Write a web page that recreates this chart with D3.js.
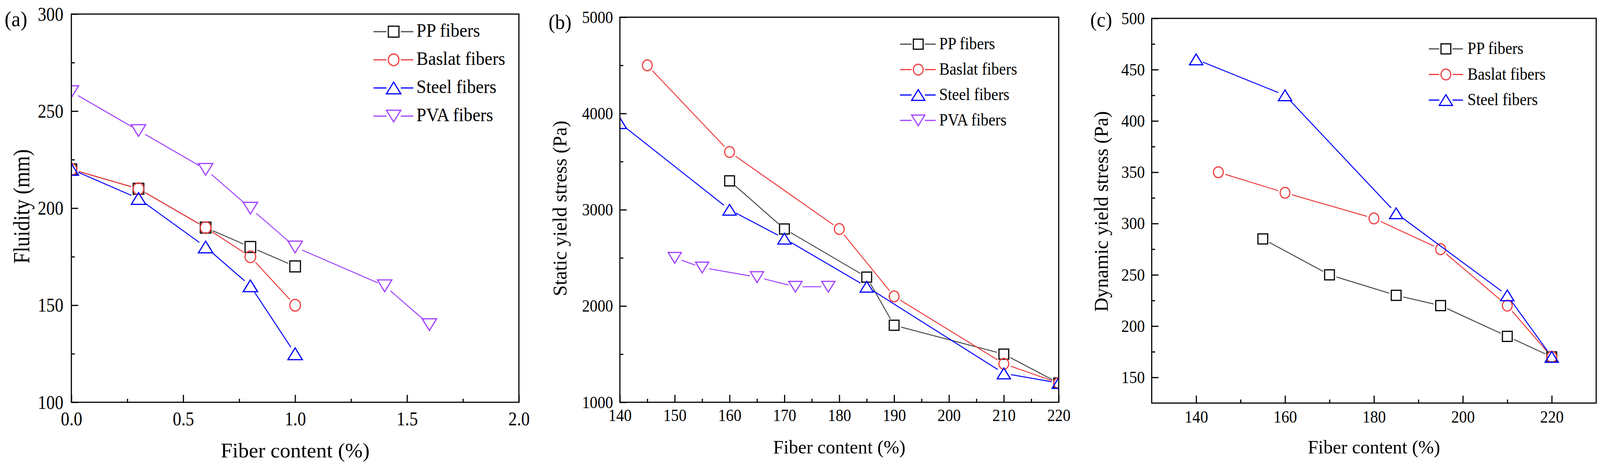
<!DOCTYPE html>
<html>
<head>
<meta charset="utf-8">
<script src="https://cdn.jsdelivr.net/npm/d3@7"></script>
<style>
	html, body { margin: 0; padding: 0; background: #fff; overflow: hidden; }
	svg { display: block; }
</style>
</head>
<body>
<script>
const width = 4215
const height = 1192
const serif = '"Liberation Serif", "Times New Roman", "DejaVu Serif", serif'

// Series names (legend order)
const seriesNames = ['PP fibers', 'Baslat fibers', 'Steel fibers', 'PVA fibers']

// (a) Fluidity vs fiber content
const fluidityPPx = [0, 0.3, 0.6, 0.8, 1.0]
const fluidityPPy = [220, 210, 190, 180, 170]
const fluidityBaslatX = [0, 0.3, 0.6, 0.8, 1.0]
const fluidityBaslatY = [220, 210, 190, 175, 150]
const fluiditySteelX = [0, 0.3, 0.6, 0.8, 1.0]
const fluiditySteelY = [220, 205, 180, 160, 125]
const fluidityPVAx = [0, 0.3, 0.6, 0.8, 1.0, 1.4, 1.6]
const fluidityPVAy = [260, 240, 220, 200, 180, 160, 140]

// (b) Static yield stress
const staticPPx = [160, 170, 185, 190, 210, 220]
const staticPPy = [3300, 2800, 2300, 1800, 1500, 1200]
const staticBaslatX = [145, 160, 180, 190, 210, 220]
const staticBaslatY = [4500, 3600, 2800, 2100, 1400, 1200]
const staticSteelX = [140, 160, 170, 185, 210, 220]
const staticSteelY = [3900, 3000, 2700, 2200, 1300, 1200]
const staticPVAx = [150, 155, 165, 172, 178]
const staticPVAy = [2500, 2400, 2300, 2200, 2200]

// (c) Dynamic yield stress
const dynamicPPx = [155, 170, 185, 195, 210, 220]
const dynamicPPy = [285, 250, 230, 220, 190, 170]
const dynamicBaslatX = [145, 160, 180, 195, 210, 220]
const dynamicBaslatY = [350, 330, 305, 275, 220, 170]
const dynamicSteelX = [140, 160, 185, 210, 220]
const dynamicSteelY = [460, 425, 310, 230, 170]

// Tick values
const fluidityXTicks = [0, 0.5, 1.0, 1.5, 2.0]
const fluidityXMinor = [0.25, 0.75, 1.25, 1.75]
const fluidityYTicks = [100, 150, 200, 250, 300]
const fluidityYMinor = [125, 175, 225, 275]
const staticXTicks = [140, 150, 160, 170, 180, 190, 200, 210, 220]
const staticXMinor = [145, 155, 165, 175, 185, 195, 205, 215]
const staticYTicks = [1000, 2000, 3000, 4000, 5000]
const staticYMinor = [1500, 2500, 3500, 4500]
const dynamicXTicks = [140, 160, 180, 200, 220]
const dynamicXMinor = [150, 170, 190, 210]
const dynamicYTicks = [150, 200, 250, 300, 350, 400, 450, 500]
const dynamicYMinor = [175, 225, 275, 325, 375, 425, 475]

// Look of each series
const styles = {
	'PP fibers': { line: '#4a4a4a', color: '#000000', marker: 'square' },
	'Baslat fibers': { line: '#f03c3c', color: '#f03c3c', marker: 'circle' },
	'Steel fibers': { line: '#0000ff', color: '#0000ff', marker: 'up' },
	'PVA fibers': { line: '#a040ff', color: '#a040ff', marker: 'down' },
}

const panels = [
	{
		id: 'a', left: 188, right: 1367, top: 36, bottom: 1029,
		xDomain: [0, 2], yDomain: [100, 300],
		xTicks: fluidityXTicks, xMinor: fluidityXMinor, yTicks: fluidityYTicks, yMinor: fluidityYMinor,
		xFormat: d3.format('.1f'),
		tickFont: 50, tickScale: 0.9, xPad: 24, yPad: 21,
		series: [
			{ name: seriesNames[0], x: fluidityPPx, y: fluidityPPy },
			{ name: seriesNames[1], x: fluidityBaslatX, y: fluidityBaslatY },
			{ name: seriesNames[2], x: fluiditySteelX, y: fluiditySteelY },
			{ name: seriesNames[3], x: fluidityPVAx, y: fluidityPVAy },
		],
		legend: { x0: 984, mx: 1037, x1: 1089, tx: 1097, y0: 81, step: 72, font: 48, scale: 0.97 },
		label: { text: '(a)', x: 12, y: 67, font: 54 },
		yTitle: { text: 'Fluidity (mm)', x: 77, y: 528, font: 61, scale: 0.85 },
		xTitle: { text: 'Fiber content (%)', y: 1170, font: 52, scale: 1.07 },
		k: 1, gap: 20,
	},
	{
		id: 'b', left: 1633, right: 2789, top: 44, bottom: 1029,
		xDomain: [140, 220], yDomain: [1000, 5000],
		xTicks: staticXTicks, xMinor: staticXMinor, yTicks: staticYTicks, yMinor: staticYMinor,
		xFormat: d3.format('d'),
		tickFont: 44, tickScale: 0.93, xPad: 17, yPad: 18,
		series: [
			{ name: seriesNames[0], x: staticPPx, y: staticPPy },
			{ name: seriesNames[1], x: staticBaslatX, y: staticBaslatY },
			{ name: seriesNames[2], x: staticSteelX, y: staticSteelY },
			{ name: seriesNames[3], x: staticPVAx, y: staticPVAy },
		],
		legend: { x0: 2371, mx: 2419, x1: 2465, tx: 2474, y0: 113, step: 65, font: 44, scale: 0.93 },
		label: { text: '(b)', x: 1445, y: 74, font: 52 },
		yTitle: { text: 'Static yield stress (Pa)', x: 1492, y: 533, font: 53, scale: 0.95 },
		xTitle: { text: 'Fiber content (%)', y: 1160, font: 48, scale: 1.03 },
		k: 0.92, gap: 19,
	},
	{
		id: 'c', left: 3034, right: 4205, top: 47, bottom: 1031,
		xDomain: [130, 230], yDomain: [125, 500],
		xTicks: dynamicXTicks, xMinor: dynamicXMinor, yTicks: dynamicYTicks, yMinor: dynamicYMinor,
		xFormat: d3.format('d'),
		tickFont: 44, tickScale: 0.94, xPad: 19, yPad: 18,
		series: [
			{ name: seriesNames[0], x: dynamicPPx, y: dynamicPPy },
			{ name: seriesNames[1], x: dynamicBaslatX, y: dynamicBaslatY },
			{ name: seriesNames[2], x: dynamicSteelX, y: dynamicSteelY },
		],
		legend: { x0: 3764, mx: 3809, x1: 3854, tx: 3866, y0: 125, step: 65.5, font: 44, scale: 0.93 },
		label: { text: '(c)', x: 2872, y: 68, font: 52 },
		yTitle: { text: 'Dynamic yield stress (Pa)', x: 2918, y: 541, font: 53, scale: 0.94 },
		xTitle: { text: 'Fiber content (%)', y: 1160, font: 48, scale: 1.03 },
		k: 0.92, gap: 19,
	},
]

// svg scales to whatever the viewport really is
const svg = d3.select('body').append('svg')
	.attr('viewBox', `0 0 ${width} ${height}`)
	.attr('preserveAspectRatio', 'none')
	.style('width', '100vw')
	.style('height', '100vh')
	.attr('font-family', serif)
svg.append('rect').attr('width', width).attr('height', height).attr('fill', '#fff')

// Open marker centred on (cx, cy)
function drawMarker(g, type, cx, cy, k, color) {
	const m = g.append(type === 'square' ? 'rect' : type === 'circle' ? 'ellipse' : 'polygon')
	if (type === 'square') {
		m.attr('x', cx - 14 * k).attr('y', cy - 14 * k).attr('width', 28 * k).attr('height', 28 * k)
	} else if (type === 'circle') {
		m.attr('cx', cx).attr('cy', cy).attr('rx', 14 * k).attr('ry', 15 * k)
	} else {
		const hw = 19 * k, hh = 15 * k, s = type === 'up' ? 1 : -1
		m.attr('points', [[cx, cy - s * hh], [cx + hw, cy + s * hh], [cx - hw, cy + s * hh]].join(' '))
	}
	m.attr('fill', 'none').attr('stroke', color).attr('stroke-width', 3)
}

// Line between two points, stopped short of the markers
function gappedSegment(g, p0, p1, gap, color) {
	const dx = p1[0] - p0[0], dy = p1[1] - p0[1]
	const len = Math.hypot(dx, dy)
	if (len <= 2 * gap) return
	const ux = dx / len, uy = dy / len
	g.append('line')
		.attr('x1', p0[0] + ux * gap).attr('y1', p0[1] + uy * gap)
		.attr('x2', p1[0] - ux * gap).attr('y2', p1[1] - uy * gap)
		.attr('stroke', color).attr('stroke-width', 2.5)
}

// Text squeezed/stretched along its reading direction
function label(g, str, x, y, size, sx, anchor, rotate) {
	g.append('text')
		.attr('transform', `translate(${x},${y})` + (rotate ? ' rotate(-90)' : '') + ` scale(${sx},1)`)
		.attr('text-anchor', anchor)
		.attr('font-family', serif)
		.attr('font-size', size)
		.attr('fill', '#000')
		.text(str)
}

function drawPanel(p) {
	const x = d3.scaleLinear().domain(p.xDomain).range([p.left, p.right])
	const y = d3.scaleLinear().domain(p.yDomain).range([p.bottom, p.top])
	const g = svg.append('g').attr('id', 'panel-' + p.id)

	svg.append('clipPath').attr('id', 'clip-' + p.id)
		.append('rect')
		.attr('x', p.left).attr('y', p.top)
		.attr('width', p.right - p.left).attr('height', p.bottom - p.top)

	// Lines and markers
	const plot = g.append('g').attr('clip-path', `url(#clip-${p.id})`)
	p.series.forEach(function (s) {
		const st = styles[s.name]
		const pts = s.x.map((v, i) => [x(v), y(s.y[i])])
		for (let i = 0; i < pts.length - 1; i++) gappedSegment(plot, pts[i], pts[i + 1], p.gap, st.line)
		pts.forEach(pt => drawMarker(plot, st.marker, pt[0], pt[1], p.k, st.color))
	})

	// Frame
	g.append('rect')
		.attr('x', p.left).attr('y', p.top)
		.attr('width', p.right - p.left).attr('height', p.bottom - p.top)
		.attr('fill', 'none').attr('stroke', '#000').attr('stroke-width', 3)

	// Axes, ticks pointing inwards
	const styleAxis = function (a, font) {
		a.select('.domain').remove()
		a.attr('font-family', serif).attr('font-size', font)
		a.selectAll('line').attr('stroke', '#000').attr('stroke-width', 3)
		a.selectAll('text').attr('fill', '#000').attr('font-family', serif)
	}
	const xa = g.append('g').attr('transform', `translate(0,${p.bottom})`)
		.call(d3.axisBottom(x).tickValues(p.xTicks).tickFormat(p.xFormat).tickSizeInner(-19).tickSizeOuter(0).tickPadding(p.xPad))
	styleAxis(xa, p.tickFont)
	xa.selectAll('text').attr('transform', `scale(${p.tickScale},1)`)

	const xm = g.append('g').attr('transform', `translate(0,${p.bottom})`)
		.call(d3.axisBottom(x).tickValues(p.xMinor).tickFormat('').tickSizeInner(-9).tickSizeOuter(0))
	styleAxis(xm, p.tickFont)

	const ya = g.append('g').attr('transform', `translate(${p.left},0)`)
		.call(d3.axisLeft(y).tickValues(p.yTicks).tickFormat(d3.format('d')).tickSizeInner(-18).tickSizeOuter(0).tickPadding(p.yPad))
	styleAxis(ya, p.tickFont)
	ya.selectAll('text').attr('x', -p.yPad / p.tickScale).attr('transform', `scale(${p.tickScale},1)`)

	const ym = g.append('g').attr('transform', `translate(${p.left},0)`)
		.call(d3.axisLeft(y).tickValues(p.yMinor).tickFormat('').tickSizeInner(-9).tickSizeOuter(0))
	styleAxis(ym, p.tickFont)

	// Titles and panel tag
	label(g, p.xTitle.text, (p.left + p.right) / 2, p.xTitle.y, p.xTitle.font, p.xTitle.scale, 'middle', false)
	label(g, p.yTitle.text, p.yTitle.x, p.yTitle.y, p.yTitle.font, p.yTitle.scale, 'middle', true)
	label(g, p.label.text, p.label.x, p.label.y, p.label.font, 1, 'start', false)

	// Legend
	const L = p.legend
	p.series.forEach(function (s, i) {
		const st = styles[s.name]
		const ry = L.y0 + i * L.step
		g.append('line').attr('x1', L.x0).attr('x2', L.mx - 19 * p.k).attr('y1', ry).attr('y2', ry)
			.attr('stroke', st.line).attr('stroke-width', 3)
		g.append('line').attr('x1', L.mx + 19 * p.k).attr('x2', L.x1).attr('y1', ry).attr('y2', ry)
			.attr('stroke', st.line).attr('stroke-width', 3)
		drawMarker(g, st.marker, L.mx, ry, p.k, st.color)
		label(g, s.name, L.tx, ry + 13, L.font, L.scale, 'start', false)
	})
}

panels.forEach(drawPanel)
</script>
</body>
</html>
